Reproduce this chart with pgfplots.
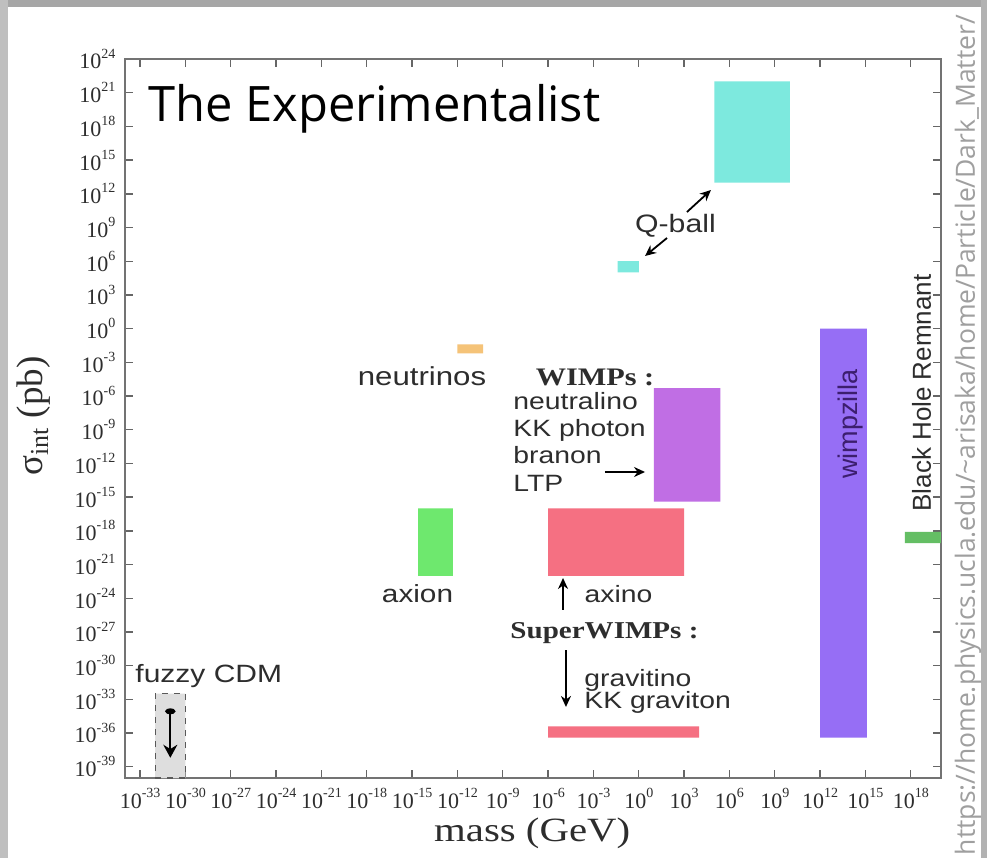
\documentclass[border=0pt]{standalone}
\usepackage{pgfplots}
\pgfplotsset{compat=1.18}
\usetikzlibrary{arrows.meta}
\usepackage{fontspec}
\setmainfont{Liberation Sans}[FakeStretch=1.2]
\newfontfamily\serifs{Liberation Serif}[FakeStretch=1.2]
\newfontfamily\serifn{Liberation Serif}
\newfontfamily\sansn{Liberation Sans}
\newfontfamily\titlef{Open Sans}
\newfontfamily\urlf{Open Sans}

\definecolor{qball}{RGB}{125,233,222}
\definecolor{neut}{RGB}{245,195,120}
\definecolor{wimp}{RGB}{192,110,228}
\definecolor{axion}{RGB}{110,232,110}
\definecolor{axino}{RGB}{245,112,130}
\definecolor{zilla}{RGB}{150,110,245}
\definecolor{bhr}{RGB}{100,190,100}
\definecolor{fuzzy}{RGB}{222,222,222}
\definecolor{txt}{RGB}{45,45,45}
\definecolor{zillatxt}{RGB}{60,30,110}

\newcommand{\tl}[1]{10\raisebox{5.4pt}{\fontsize{7}{7}\selectfont #1}}

\begin{document}
\begin{tikzpicture}[x=1pt,y=1pt,
  lab/.style={font=\fontsize{12.4}{14}\selectfont, text=txt, inner sep=0pt},
  arr/.style={line width=0.9pt, -{Stealth[length=5.5pt,width=5pt]}}]
\fill[white] (0,0) rectangle (493.5,429);
\fill[gray!70] (0,425.5) rectangle (493.5,429);
\fill[gray!50] (0,0) rectangle (4,429);
\fill[gray!60] (490.5,0) rectangle (493.5,429);

\begin{axis}[
  at={(62.5pt,40pt)}, anchor=south west,
  scale only axis, width=408pt, height=359.5pt,
  xmode=log, ymode=log,
  xmin=1e-34, xmax=1e20, ymin=1e-40, ymax=1e24,
  xtick={1e-33,1e-30,1e-27,1e-24,1e-21,1e-18,1e-15,1e-12,1e-9,1e-6,1e-3,1,1e3,1e6,1e9,1e12,1e15,1e18},
  xticklabels={\tl{-33},\tl{-30},\tl{-27},\tl{-24},\tl{-21},\tl{-18},\tl{-15},\tl{-12},\tl{-9},\tl{-6},\tl{-3},\tl{0},\tl{3},\tl{6},\tl{9},\tl{12},\tl{15},\tl{18}},
  ytick={1e-39,1e-36,1e-33,1e-30,1e-27,1e-24,1e-21,1e-18,1e-15,1e-12,1e-9,1e-6,1e-3,1,1e3,1e6,1e9,1e12,1e15,1e18,1e21,1e24},
  yticklabels={\tl{-39},\tl{-36},\tl{-33},\tl{-30},\tl{-27},\tl{-24},\tl{-21},\tl{-18},\tl{-15},\tl{-12},\tl{-9},\tl{-6},\tl{-3},\tl{0},\tl{3},\tl{6},\tl{9},\tl{12},\tl{15},\tl{18},\tl{21},\tl{24}},
  minor xtick={}, minor ytick={},
  tick align=inside,
  major tick length=3.8pt,
  axis line style={draw=black!55, line width=0.9pt},
  every tick/.style={draw=black!60, line width=0.7pt},
  ticklabel style={font=\serifn\fontsize{11}{12}\selectfont, text=txt},
  xticklabel style={yshift=-1.6pt},
  yticklabel style={xshift=-1.3pt},
  xlabel={mass (GeV)},
  ylabel={σ\textsubscript{int} (pb)},
  every axis x label/.style={at={(axis description cs:0.499,-0.0772)}, anchor=center, font=\serifs\fontsize{17}{18}\selectfont, text=txt},
  every axis y label/.style={at={(axis description cs:-0.1115,0.5035)}, rotate=90, anchor=center, font=\serifn\fontsize{18.5}{20}\selectfont, text=txt},
  clip=false,
]
% fuzzy CDM
\addplot[fill=fuzzy, draw=black!65, dashed, line width=0.6pt] coordinates {(1e-32,1e-40) (1e-30,1e-40) (1e-30,3.2e-33) (1e-32,3.2e-33) (1e-32,1e-40)};
\addplot[black, line width=1.1pt, {Ellipse[length=3pt,width=5pt]}-{Stealth[length=6.5pt,width=7pt]}] coordinates {(1e-31,1.6e-34) (1e-31,6.3e-39)};
% Q-balls
\addplot[fill=qball, draw=none] coordinates {(1e5,1e13) (1e10,1e13) (1e10,1e22) (1e5,1e22) (1e5,1e13)};
\addplot[fill=qball, draw=none] coordinates {(4e-2,1e5) (1,1e5) (1,1e6) (4e-2,1e6) (4e-2,1e5)};
% neutrinos
\addplot[fill=neut, draw=none] coordinates {(1e-12,6.3e-3) (5e-11,6.3e-3) (5e-11,4e-2) (1e-12,4e-2) (1e-12,6.3e-3)};
% WIMPs
\addplot[fill=wimp, draw=none] coordinates {(10,4e-16) (2.5e5,4e-16) (2.5e5,5e-6) (10,5e-6) (10,4e-16)};
% axion
\addplot[fill=axion, draw=none] coordinates {(2.5e-15,1e-22) (5e-13,1e-22) (5e-13,1e-16) (2.5e-15,1e-16) (2.5e-15,1e-22)};
% axino
\addplot[fill=axino, draw=none] coordinates {(1e-6,1e-22) (1e3,1e-22) (1e3,1e-16) (1e-6,1e-16) (1e-6,1e-22)};
% gravitino
\addplot[fill=axino, draw=none] coordinates {(1e-6,4e-37) (1e4,4e-37) (1e4,4e-36) (1e-6,4e-36) (1e-6,4e-37)};
% wimpzilla
\addplot[fill=zilla, draw=none] coordinates {(1e12,4e-37) (1.26e15,4e-37) (1.26e15,1) (1e12,1) (1e12,4e-37)};
% black hole remnant
\addplot[fill=bhr, draw=none] coordinates {(4e17,8e-20) (1e20,8e-20) (1e20,8e-19) (4e17,8e-19) (4e17,8e-20)};

% labels
\node[lab, anchor=center, font=\fontsize{12.6}{14}\selectfont] at (axis description cs:0.6746,0.7677) {Q-ball};
\draw[arr] (axis description cs:0.6887,0.7872) -- (axis description cs:0.7181,0.8178);
\draw[arr] (axis description cs:0.6642,0.7510) -- (axis description cs:0.6373,0.7260);
\node[lab, anchor=center, font=\fontsize{13}{14}\selectfont] at (axis description cs:0.3640,0.5591) {neutrinos};
\node[lab, anchor=center, font=\serifs\bfseries\fontsize{12.6}{14}\selectfont] at (axis description cs:0.5760,0.5570) {WIMPs :};
\node[lab, anchor=base west, font=\fontsize{11.8}{14}\selectfont] at (axis description cs:0.4755,0.5132) {neutralino};
\node[lab, anchor=base west, font=\fontsize{11.8}{14}\selectfont] at (axis description cs:0.4755,0.4743) {KK photon};
\node[lab, anchor=base west, font=\fontsize{11.8}{14}\selectfont] at (axis description cs:0.4755,0.4381) {branon};
\node[lab, anchor=base west, font=\fontsize{11.8}{14}\selectfont] at (axis description cs:0.4755,0.3978) {LTP};
\draw[arr] (axis description cs:0.5882,0.4256) -- (axis description cs:0.6373,0.4256);
\node[lab, anchor=center, font=\fontsize{12.4}{14}\selectfont] at (axis description cs:0.3585,0.2559) {axion};
\node[lab, anchor=center, font=\fontsize{11.8}{14}\selectfont] at (axis description cs:0.6048,0.2559) {axino};
\draw[arr] (axis description cs:0.5368,0.2337) -- (axis description cs:0.5368,0.2782);
\node[lab, anchor=base, font=\serifs\bfseries\fontsize{12.1}{14}\selectfont] at (axis description cs:0.5876,0.1947) {SuperWIMPs :};
\draw[arr] (axis description cs:0.5404,0.1780) -- (axis description cs:0.5404,0.0988);
\node[lab, anchor=base west, font=\fontsize{11.8}{14}\selectfont] at (axis description cs:0.5625,0.1266) {gravitino};
\node[lab, anchor=base west, font=\fontsize{11.8}{14}\selectfont] at (axis description cs:0.5625,0.0960) {KK graviton};
\node[lab, anchor=base west, font=\fontsize{12.5}{14}\selectfont] at (axis description cs:0.0123,0.1335) {fuzzy CDM};
\node[lab, anchor=center, rotate=90, font=\sansn\fontsize{13.5}{14}\selectfont, text=zillatxt] at (axis description cs:0.8897,0.4924) {wimpzilla};
\node[lab, anchor=center, rotate=90, font=\sansn\fontsize{13}{14}\selectfont] at (axis description cs:0.9761,0.5355) {Black Hole Remnant};
\end{axis}

\node[anchor=base west, inner sep=0pt] at (74pt,368pt) {\resizebox{226pt}{!}{\titlef The Experimentalist}};
\node[rotate=90, inner sep=0pt, text=gray!75] at (484pt,211.5pt) {\resizebox{420pt}{!}{\urlf https://home.physics.ucla.edu/\textasciitilde arisaka/home/Particle/Dark\_Matter/}};
\pgfresetboundingbox
\useasboundingbox (0,0) rectangle (493.5pt,429pt);
\end{tikzpicture}
\end{document}
